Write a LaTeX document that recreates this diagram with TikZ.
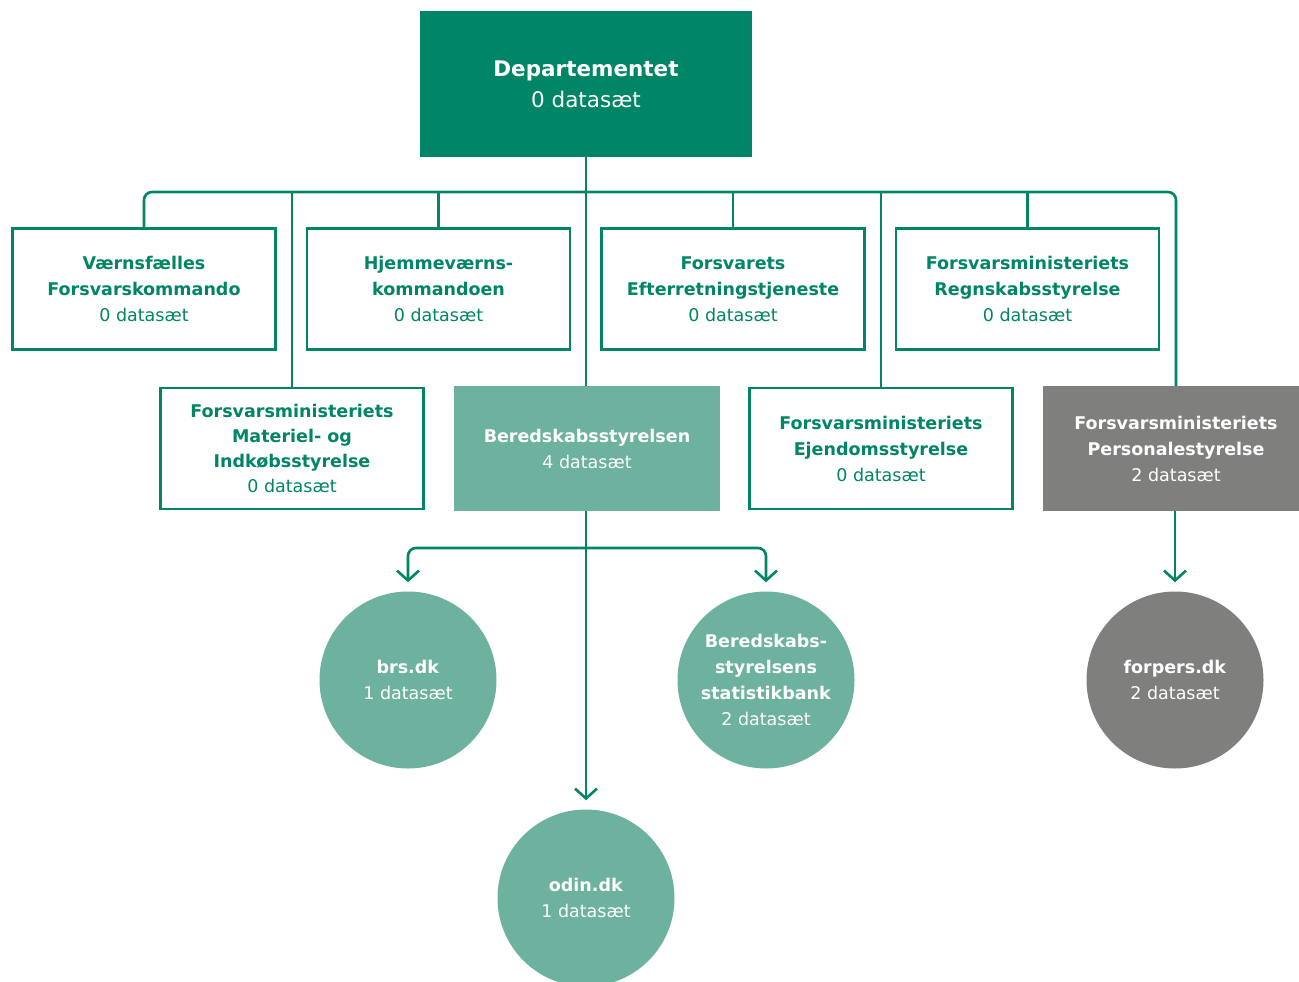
\documentclass[tikz,border=0pt]{standalone}
\usepackage{fontspec}
\setmainfont{DejaVu Sans}
\usetikzlibrary{arrows.meta}
\definecolor{dg}{HTML}{008566}
\definecolor{lg}{HTML}{6CB29E}
\definecolor{gr}{HTML}{7F7F7D}
\begin{document}
\begin{tikzpicture}[x=1pt,y=-1pt,
  txt/.style={font=\fontsize{17.5}{26}\selectfont, align=center, inner sep=0pt},
  obox/.style={txt, draw=dg, line width=2.8pt, fill=white, text=dg, minimum width=263pt, minimum height=121pt},
  fbox/.style={txt, fill=#1, text=white, minimum width=266pt, minimum height=125pt},
  circ/.style={txt, circle, fill=#1, text=white, minimum size=177pt},
  conn/.style={draw=dg, line width=2.6pt},
  arr/.style={conn, -{Straight Barb[length=10pt,width=22pt]}, shorten >=9pt}]
\useasboundingbox (0,0) rectangle (1299,982);
% nodes
\node[txt, fill=dg, text=white, minimum width=332pt, minimum height=146pt, font=\fontsize{21.5}{31}\selectfont] (dep) at (586,84) {\textbf{Departementet}\\0 datasæt};
\node[obox] (vf) at (144,289) {\textbf{Værnsfælles}\\\textbf{Forsvarskommando}\\0 datasæt};
\node[obox] (hj) at (438.5,289) {\textbf{Hjemmeværns-}\\\textbf{kommandoen}\\0 datasæt};
\node[obox] (fe) at (733,289) {\textbf{Forsvarets}\\\textbf{Efterretningstjeneste}\\0 datasæt};
\node[obox] (rs) at (1027.5,289) {\textbf{Forsvarsministeriets}\\\textbf{Regnskabsstyrelse}\\0 datasæt};
\node[obox, font=\fontsize{17.5}{24.7}\selectfont] (mat) at (292,448.5) {\textbf{Forsvarsministeriets}\\\textbf{Materiel- og}\\\textbf{Indkøbsstyrelse}\\0 datasæt};
\node[fbox=lg] (bered) at (587,448.5) {\textbf{Beredskabsstyrelsen}\\4 datasæt};
\node[obox] (ejd) at (881,448.5) {\textbf{Forsvarsministeriets}\\\textbf{Ejendomsstyrelse}\\0 datasæt};
\node[fbox=gr] (pers) at (1176,448.5) {\textbf{Forsvarsministeriets}\\\textbf{Personalestyrelse}\\2 datasæt};
\node[circ=lg] (brs) at (408,680) {\textbf{brs.dk}\\1 datasæt};
\node[circ=lg] (stat) at (766,680) {\textbf{Beredskabs-}\\\textbf{styrelsens}\\\textbf{statistikbank}\\2 datasæt};
\node[circ=gr] (forp) at (1175,680) {\textbf{forpers.dk}\\2 datasæt};
\node[circ=lg] (odin) at (586,898) {\textbf{odin.dk}\\1 datasæt};
% connectors
\coordinate (bus) at (586,192);
\coordinate (split) at (586,548);
\draw[conn] (dep.south) -- (dep.south |- bered.north);
\draw[conn, rounded corners=8pt] (vf.north) |- (bus) -| (pers.north);
\draw[conn] (hj.north) -- (hj.north |- bus);
\draw[conn] (fe.north) -- (fe.north |- bus);
\draw[conn] (rs.north) -- (rs.north |- bus);
\draw[conn] (mat.north) -- (mat.north |- bus);
\draw[conn] (ejd.north) -- (ejd.north |- bus);
\draw[arr] (bered.south -| odin) -- (odin.north);
\draw[arr, rounded corners=8pt] (split) -| (brs.north);
\draw[arr, rounded corners=8pt] (split) -| (stat.north);
\draw[arr] (pers.south -| forp) -- (forp.north);
\end{tikzpicture}
\end{document}
